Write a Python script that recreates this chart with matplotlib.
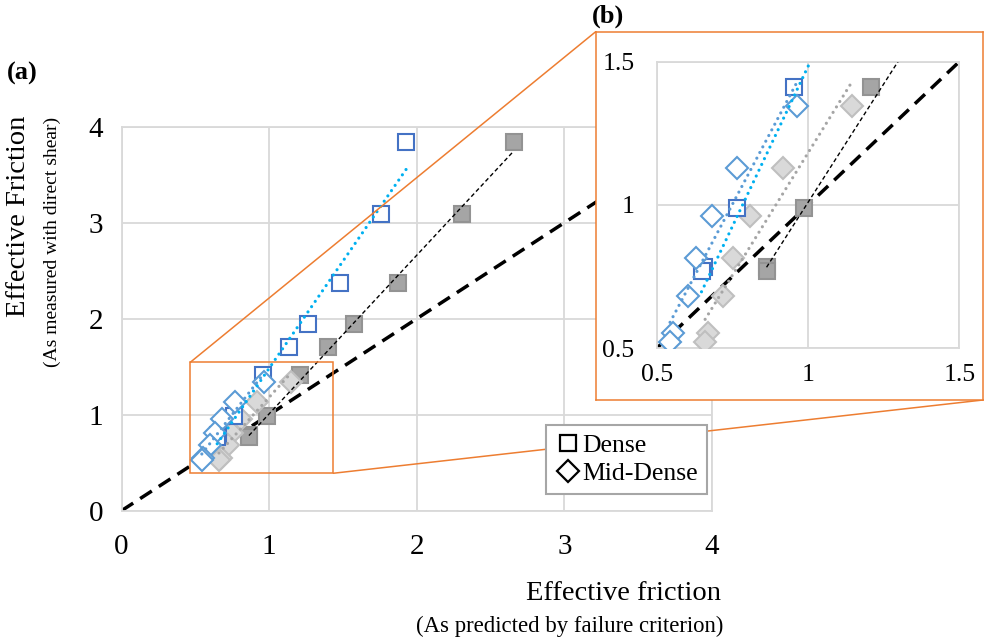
import numpy as np
import matplotlib
matplotlib.use('Agg')
import matplotlib.pyplot as plt
from matplotlib.lines import Line2D
from matplotlib.patches import Rectangle, ConnectionPatch

plt.rcParams['font.family'] = ['Liberation Serif', 'DejaVu Serif']
plt.rcParams['lines.scale_dashes'] = False

# measured friction (direct shear) vs predicted friction (failure criterion)
dense_meas = [3.84, 3.09, 2.37, 1.94, 1.70, 1.41, 0.99, 0.785, 0.77]
dense_pred_a = [1.93, 1.76, 1.48, 1.26, 1.135, 0.955, 0.765, 0.655, 0.648]
dense_pred_b = [2.657, 2.306, 1.874, 1.572, 1.40, 1.208, 0.987, 0.863, 0.863]
mid_meas = [1.345, 1.13, 0.96, 0.814, 0.683, 0.552, 0.523]
mid_pred_a = [0.965, 0.766, 0.684, 0.63, 0.602, 0.555, 0.544]
mid_pred_b = [1.146, 0.918, 0.808, 0.751, 0.72, 0.671, 0.66]

main_ticks = [0, 1, 2, 3, 4]
inset_ticks = [0.5, 1, 1.5]
zoom_x = [0.466, 1.435]
zoom_y = [0.39, 1.546]

ORANGE = '#ED7D31'
GRID = '#D9D9D9'

series = [
    # x, y, marker, face, edge, trend colour, trend style
    (dense_pred_b, dense_meas, 's', '#A5A5A5', '#939393', 'black', 'dash'),
    (mid_pred_b, mid_meas, 'D', '#D9D9D9', '#BFBFBF', '#A5A5A5', 'dot'),
    (dense_pred_a, dense_meas, 's', 'white', '#4472C4', '#00B0F0', 'dot'),
    (mid_pred_a, mid_meas, 'D', 'white', '#5B9BD5', '#5B9BD5', 'dot'),
]


def draw(ax, lo, hi):
    ax.plot([lo, hi], [lo, hi], color='black', lw=2.5, dashes=(10, 6),
            zorder=2, solid_capstyle='butt')
    for x, y, m, fc, ec, tc, ts in series:
        ax.plot(x, y, ls='none', marker=m, ms=11.5, mfc=fc, mec=ec, mew=1.5,
                zorder=3)
    for x, y, m, fc, ec, tc, ts in series:
        k, b = np.polyfit(x, y, 1)
        xs = np.array([min(x), max(x)])
        if ts == 'dash':
            ax.plot(xs, k * xs + b, color=tc, lw=1.0, dashes=(3, 2), zorder=4)
        else:
            ax.plot(xs, k * xs + b, color=tc, lw=2.3, dashes=(0.01, 4.6),
                    dash_capstyle='round', zorder=4)
    ax.set_xlim(lo, hi)
    ax.set_ylim(lo, hi)
    ax.grid(True, color=GRID, lw=1.3)
    ax.set_axisbelow(True)
    for s in ax.spines.values():
        s.set_color(GRID)
        s.set_linewidth(1.3)


fig = plt.figure(figsize=(9.84, 6.44), dpi=100)

ax = fig.add_axes([0.1235, 0.207, 0.6001, 0.5963])
draw(ax, 0, 4)
ax.set_xticks(main_ticks)
ax.set_yticks(main_ticks)
ax.tick_params(axis='both', length=0, labelsize=21)
ax.tick_params(axis='x', pad=17)
ax.tick_params(axis='y', pad=13)

ax.add_patch(Rectangle((zoom_x[0], zoom_y[0]), zoom_x[1] - zoom_x[0],
                       zoom_y[1] - zoom_y[0], fill=False, ec=ORANGE, lw=1.1,
                       zorder=5))

box = fig.add_axes([0.6054, 0.3789, 0.3936, 0.5719], zorder=3)
box.set_xticks([])
box.set_yticks([])
for s in box.spines.values():
    s.set_color(ORANGE)
    s.set_linewidth(1.1)

for xa, ya, xb in [(zoom_x[0], zoom_y[1], (0, 1)), (zoom_x[1], zoom_y[0], (1, 0))]:
    con = ConnectionPatch(xyA=(xa, ya), coordsA=ax.transData, xyB=xb,
                          coordsB=box.transAxes, color=ORANGE, lw=1.1,
                          zorder=4, clip_on=False)
    ax.add_artist(con)

handles = [Line2D([], [], ls='none', marker='s', ms=11.5, mfc='white',
                  mec='black', mew=1.6, label='Dense'),
           Line2D([], [], ls='none', marker='D', ms=11.5, mfc='white',
                  mec='black', mew=1.6, label='Mid-Dense')]
leg = ax.legend(handles=handles, loc='upper left',
                bbox_to_anchor=(546 / 984, 1 - 425 / 644),
                bbox_transform=fig.transFigure, fontsize=18.5, frameon=True,
                fancybox=False, edgecolor='#A6A6A6', framealpha=1,
                borderpad=0.35, handletextpad=0.05, labelspacing=0.2,
                handlelength=1.0, borderaxespad=0)
leg.get_frame().set_linewidth(1.5)
leg.set_zorder(6)

ins = fig.add_axes([0.6674, 0.4592, 0.3075, 0.4450], zorder=4)
draw(ins, 0.5, 1.5)
ins.set_xticks(inset_ticks)
ins.set_yticks(inset_ticks)
ins.set_xticklabels(['0.5', '1', '1.5'])
ins.set_yticklabels(['0.5', '1', '1.5'])
ins.tick_params(axis='both', length=0, labelsize=18.5)
ins.tick_params(axis='x', pad=11)
ins.tick_params(axis='y', pad=16)

fig.text(0.0224, 0.8866, '(a)', fontsize=19, fontweight='bold',
         ha='center', va='center')
fig.text(0.618, 0.974, '(b)', fontsize=19, fontweight='bold',
         ha='center', va='center')
fig.text(0.0193, 0.6638, 'Effective Friction', fontsize=20.5, rotation=90,
         ha='center', va='center')
fig.text(0.0528, 0.6242, '(As measured with direct shear)', fontsize=14,
         rotation=90, ha='center', va='center')
fig.text(0.7327, 0.079, 'Effective friction', fontsize=20.5,
         ha='right', va='center')
fig.text(0.7348, 0.028, '(As predicted by failure criterion)', fontsize=16.4,
         ha='right', va='center')

fig.savefig('out.png', dpi=100)
